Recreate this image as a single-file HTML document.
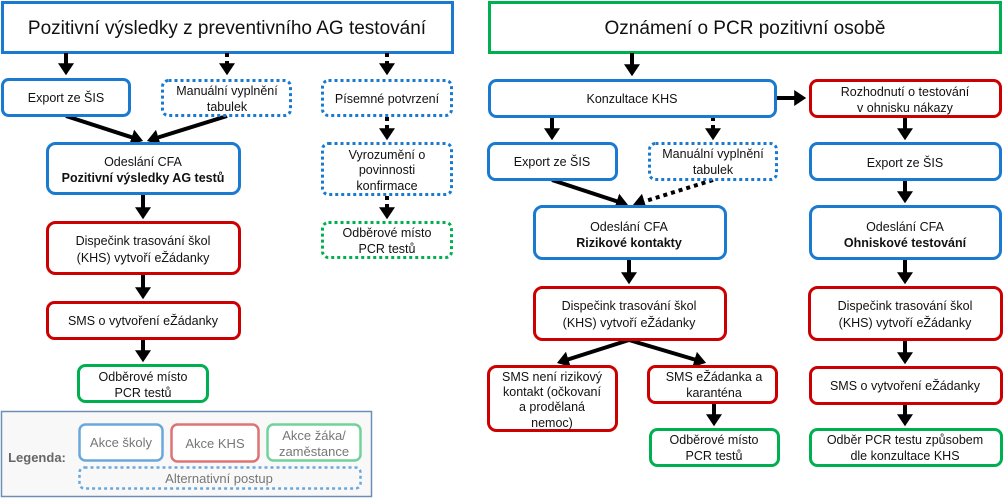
<!DOCTYPE html>
<html><head><meta charset="utf-8"><style>
html,body{margin:0;padding:0;background:#fff;}
svg{display:block;font-family:"Liberation Sans","DejaVu Sans",sans-serif;}
text{font-size:12.5px;fill:#111;text-anchor:middle;}
.b{fill:#fff;stroke:#1a7ad0;stroke-width:3;}
.r{fill:#fff;stroke:#cc0000;stroke-width:3;}
.g{fill:#fff;stroke:#00b050;stroke-width:3;}
.bd{fill:#fff;stroke:#1a7ad0;stroke-width:3;stroke-dasharray:3 3;}
.gd{fill:#fff;stroke:#00b050;stroke-width:3;stroke-dasharray:3 3;}
.a{stroke:#000;stroke-width:4;fill:none;}
.ad{stroke:#000;stroke-width:4;fill:none;stroke-dasharray:4 4;}
.lt{fill:#777;font-size:13px;}
</style></head><body>
<svg width="1004" height="498" viewBox="0 0 1004 498">
<defs>
<marker id="h" markerWidth="4" markerHeight="4" refX="2.2" refY="2" orient="auto" markerUnits="strokeWidth"><path d="M0,0 L3,2 L0,4 z" fill="#000"/></marker>
</defs>
<!-- titles -->
<rect x="2.5" y="2.5" width="450" height="50" fill="#fff" stroke="#1a7ad0" stroke-width="3"/>
<text x="227" y="34" style="font-size:19px">Pozitivní výsledky z preventivního AG testování</text>
<rect x="489.5" y="2.5" width="511" height="50" fill="#fff" stroke="#00b050" stroke-width="3"/>
<text x="745" y="34" style="font-size:19px">Oznámení o PCR pozitivní osobě</text>

<!-- left arrows -->
<line class="a" x1="66" y1="53" x2="66" y2="72" marker-end="url(#h)"/>
<line class="ad" x1="227" y1="53" x2="227" y2="72" marker-end="url(#h)"/>
<line class="ad" x1="387" y1="53" x2="387" y2="72" marker-end="url(#h)"/>
<line class="a" x1="66" y1="116" x2="140" y2="140" marker-end="url(#h)"/>
<line class="a" x1="227" y1="116" x2="150" y2="140" marker-end="url(#h)"/>
<line class="ad" x1="387" y1="117" x2="387" y2="137" marker-end="url(#h)"/>
<line class="ad" x1="387" y1="196" x2="387" y2="216" marker-end="url(#h)"/>
<line class="a" x1="143" y1="195" x2="143" y2="216" marker-end="url(#h)"/>
<line class="a" x1="143" y1="275" x2="143" y2="296" marker-end="url(#h)"/>
<line class="a" x1="143" y1="340" x2="143" y2="359" marker-end="url(#h)"/>

<!-- left boxes -->
<rect class="b" x="2.5" y="79.5" width="127" height="36" rx="6"/>
<text x="66" y="102">Export ze ŠIS</text>
<rect class="bd" x="162.5" y="80.5" width="128" height="35" rx="6"/>
<text x="227" y="95">Manuální vyplnění</text><text x="227" y="111">tabulek</text>
<rect class="bd" x="322.5" y="80.5" width="129" height="35" rx="6"/>
<text x="387" y="103">Písemné potvrzení</text>
<rect class="b" x="47.5" y="143.5" width="192" height="50" rx="8"/>
<text x="143" y="166">Odeslání CFA</text><text x="143" y="182" style="font-weight:bold">Pozitivní výsledky AG testů</text>
<rect class="bd" x="322.5" y="143.5" width="129" height="51" rx="6"/>
<text x="387" y="159">Vyrozumění o</text><text x="387" y="174">povinnosti</text><text x="387" y="190">konfirmace</text>
<rect class="gd" x="322.5" y="222.5" width="129" height="35" rx="6"/>
<text x="387" y="237">Odběrové místo</text><text x="387" y="253">PCR testů</text>
<rect class="r" x="47.5" y="222.5" width="192" height="51" rx="8"/>
<text x="143" y="245">Dispečink trasování škol</text><text x="143" y="262">(KHS) vytvoří eŽádanky</text>
<rect class="r" x="47.5" y="302.5" width="192" height="36" rx="7"/>
<text x="143" y="325">SMS o vytvoření eŽádanky</text>
<rect class="g" x="78.5" y="365.5" width="129" height="36" rx="7"/>
<text x="143" y="381">Odběrové místo</text><text x="143" y="397">PCR testů</text>

<!-- legend -->
<rect x="1.5" y="411.5" width="370" height="85" fill="#f8f8f8" stroke="#6e8fb5" stroke-width="1.5"/>
<text x="37" y="462" style="font-weight:bold;fill:#666;font-size:13px">Legenda:</text>
<rect x="79.5" y="424.5" width="83" height="36" rx="6" fill="#fff" stroke="#6aa8dc" stroke-width="2.5"/>
<text class="lt" x="121" y="447">Akce školy</text>
<rect x="171.5" y="424.5" width="87" height="37" rx="6" fill="#fff" stroke="#dd7474" stroke-width="2.5"/>
<text class="lt" x="215" y="448">Akce KHS</text>
<rect x="267.5" y="424.5" width="93" height="36" rx="6" fill="#fff" stroke="#72d29a" stroke-width="2.5"/>
<text class="lt" x="314" y="440">Akce žáka/</text><text class="lt" x="314" y="456">zaměstance</text>
<rect x="79.5" y="467.5" width="281" height="21" rx="5" fill="#f8f8f8" stroke="#6aa8dc" stroke-width="2.5" stroke-dasharray="3 3"/>
<text class="lt" x="219" y="483">Alternativní postup</text>

<!-- right arrows -->
<line class="a" x1="632" y1="53" x2="632" y2="73" marker-end="url(#h)"/>
<line class="a" x1="777" y1="98" x2="803" y2="98" marker-end="url(#h)"/>
<line class="a" x1="552" y1="117" x2="552" y2="137" marker-end="url(#h)"/>
<line class="ad" x1="713" y1="117" x2="713" y2="137" marker-end="url(#h)"/>
<line class="a" x1="905" y1="117" x2="905" y2="137" marker-end="url(#h)"/>
<line class="a" x1="552" y1="180" x2="625" y2="204" marker-end="url(#h)"/>
<line class="ad" x1="713" y1="180" x2="636" y2="204" marker-end="url(#h)"/>
<line class="a" x1="905" y1="181" x2="905" y2="200" marker-end="url(#h)"/>
<line class="a" x1="629" y1="259" x2="629" y2="281" marker-end="url(#h)"/>
<line class="a" x1="905" y1="259" x2="905" y2="281" marker-end="url(#h)"/>
<line class="a" x1="629" y1="340" x2="560" y2="362" marker-end="url(#h)"/>
<line class="a" x1="629" y1="340" x2="703" y2="362" marker-end="url(#h)"/>
<line class="a" x1="905" y1="340" x2="905" y2="361" marker-end="url(#h)"/>
<line class="a" x1="714" y1="404" x2="714" y2="423" marker-end="url(#h)"/>
<line class="a" x1="905" y1="405" x2="905" y2="423" marker-end="url(#h)"/>

<!-- right boxes -->
<rect class="b" x="489.5" y="80.5" width="286" height="36" rx="7"/>
<text x="632" y="103">Konzultace KHS</text>
<rect class="r" x="810.5" y="80.5" width="190" height="36" rx="7"/>
<text x="905" y="96">Rozhodnutí o testování</text><text x="905" y="112">v ohnisku nákazy</text>
<rect class="b" x="488.5" y="143.5" width="128" height="36" rx="7"/>
<text x="552" y="166">Export ze ŠIS</text>
<rect class="bd" x="649.5" y="143.5" width="127" height="36" rx="6"/>
<text x="713" y="158">Manuální vyplnění</text><text x="713" y="174">tabulek</text>
<rect class="b" x="810.5" y="143.5" width="190" height="36" rx="7"/>
<text x="905" y="167">Export ze ŠIS</text>
<rect class="b" x="534.5" y="206.5" width="191" height="52" rx="8"/>
<text x="629" y="231">Odeslání CFA</text><text x="629" y="247" style="font-weight:bold">Rizikové kontakty</text>
<rect class="b" x="810.5" y="206.5" width="190" height="52" rx="8"/>
<text x="905" y="231">Odeslání CFA</text><text x="905" y="247" style="font-weight:bold">Ohniskové testování</text>
<rect class="r" x="534.5" y="287.5" width="191" height="52" rx="8"/>
<text x="629" y="310">Dispečink trasování škol</text><text x="629" y="327">(KHS) vytvoří eŽádanky</text>
<rect class="r" x="809.5" y="287.5" width="192" height="52" rx="8"/>
<text x="905" y="310">Dispečink trasování škol</text><text x="905" y="327">(KHS) vytvoří eŽádanky</text>
<rect class="r" x="488.5" y="366.5" width="128" height="64" rx="8"/>
<text x="552" y="381">SMS není rizikový</text><text x="552" y="396">kontakt (očkovaní</text><text x="552" y="411">a prodělaná</text><text x="552" y="427">nemoc)</text>
<rect class="r" x="648.5" y="366.5" width="128" height="36" rx="7"/>
<text x="714" y="381">SMS eŽádanka a</text><text x="714" y="397">karanténa</text>
<rect class="g" x="650.5" y="429.5" width="128" height="36" rx="7"/>
<text x="714" y="444">Odběrové místo</text><text x="714" y="460">PCR testů</text>
<rect class="r" x="810.5" y="367.5" width="191" height="36" rx="7"/>
<text x="905" y="390">SMS o vytvoření eŽádanky</text>
<rect class="g" x="810.5" y="429.5" width="191" height="36" rx="7"/>
<text x="905" y="444">Odběr PCR testu způsobem</text><text x="905" y="460">dle konzultace KHS</text>
</svg>
</body></html>
